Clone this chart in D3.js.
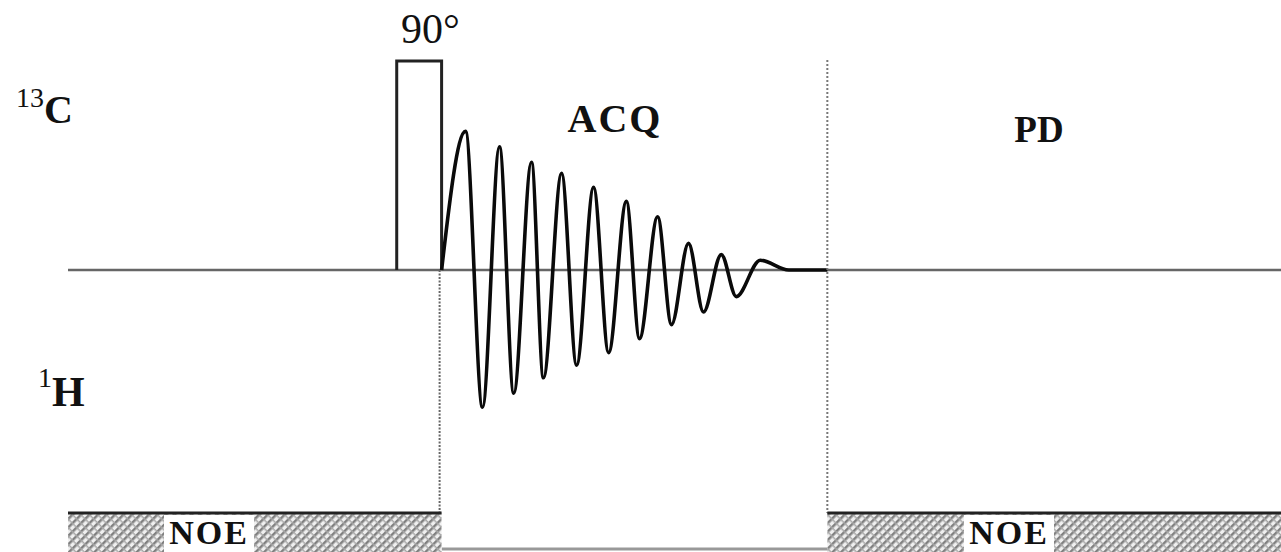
<!DOCTYPE html>
<html>
<head>
<meta charset="utf-8">
<script src="https://cdn.jsdelivr.net/npm/d3@7"></script>
<style>
  body { margin: 0; background: #fff; }
  text { font-family: "Liberation Serif", "Times New Roman", serif; fill: #111; }
</style>
</head>
<body>
<div id="chart"></div>
<script>
var svgWidth = 1281;
var svgHeight = 552;

// timeline in arbitrary time units
var pulseStart = 271;
var pulseEnd = 308;
var acqEnd = 626;
var seqEnd = 1000;

// 1H decoupler blocks (NOE build-up), in timeline units
var noeStarts = [0, 626];
var noeEnds = [308, 1000];

// FID extrema: fraction of acquisition time, normalised amplitude
var fidTime = [0, 0.062, 0.106, 0.150, 0.187, 0.233, 0.264, 0.311, 0.350, 0.394, 0.433,
  0.479, 0.513, 0.560, 0.596, 0.640, 0.679, 0.725, 0.764, 0.826, 0.90, 1.0];
var fidAmp = [0, 0.99, -0.98, 0.88, -0.88, 0.77, -0.77, 0.69, -0.68, 0.59, -0.59,
  0.49, -0.49, 0.38, -0.39, 0.19, -0.30, 0.11, -0.19, 0.07, 0, 0];

var svg = d3.select("#chart")
  .append("svg")
  .attr("width", svgWidth)
  .attr("height", svgHeight);

// hatch pattern for the decoupler blocks
var defs = svg.append("defs");
var pat = defs.append("pattern")
  .attr("id", "hatch")
  .attr("patternUnits", "userSpaceOnUse")
  .attr("width", 6)
  .attr("height", 6)
  .attr("patternTransform", "rotate(45)");
pat.append("rect").attr("width", 6).attr("height", 6).attr("fill", "#f0f0f0");
pat.append("rect").attr("width", 2.5).attr("height", 6).attr("fill", "#808080");
pat.append("rect").attr("width", 6).attr("height", 1.5).attr("fill", "#a8a8a8");

var x = d3.scaleLinear().domain([0, seqEnd]).range([68, 1281]);

var baseC = 270;  // 13C channel baseline
var y = d3.scaleLinear().domain([-1, 1]).range([baseC + 140, baseC - 140]);
var pulseTop = 61;

var hTop = 513;   // 1H channel top

// 13C baseline
svg.append("line")
  .attr("x1", x(0)).attr("x2", x(seqEnd))
  .attr("y1", baseC).attr("y2", baseC)
  .attr("stroke", "#666").attr("stroke-width", 2.5);

// 90 degree pulse
svg.append("path")
  .attr("d", `M${x(pulseStart)},${baseC} V${pulseTop} H${x(pulseEnd)} V${baseC}`)
  .attr("fill", "none")
  .attr("stroke", "#222")
  .attr("stroke-width", 3);

// FID
var xAcq = d3.scaleLinear().domain([0, 1]).range([x(pulseEnd), x(acqEnd)]);
var fid = fidTime.map((t, i) => [t, fidAmp[i]]);
var line = d3.line()
  .x(d => xAcq(d[0]))
  .y(d => y(d[1]))
  .curve(d3.curveMonotoneX);

svg.append("path")
  .datum(fid)
  .attr("d", line)
  .attr("fill", "none")
  .attr("stroke", "#0a0a0a")
  .attr("stroke-width", 3.6)
  .attr("stroke-linejoin", "round");

// dotted markers
svg.append("line")
  .attr("x1", x(pulseEnd) - 2).attr("x2", x(pulseEnd) - 2)
  .attr("y1", baseC).attr("y2", hTop)
  .attr("stroke", "#666").attr("stroke-width", 2)
  .attr("stroke-dasharray", "2,1.5");

svg.append("line")
  .attr("x1", x(acqEnd)).attr("x2", x(acqEnd))
  .attr("y1", 60).attr("y2", hTop)
  .attr("stroke", "#777").attr("stroke-width", 2)
  .attr("stroke-dasharray", "2,2");

// 1H channel baseline during acquisition
svg.append("line")
  .attr("x1", x(pulseEnd)).attr("x2", x(acqEnd))
  .attr("y1", 549).attr("y2", 549)
  .attr("stroke", "#999").attr("stroke-width", 3);

// NOE blocks
var blocks = svg.selectAll(".noe")
  .data(noeStarts.map((s, i) => ({ s: s, e: noeEnds[i] })))
  .enter()
  .append("g")
  .attr("class", "noe");

blocks.append("rect")
  .attr("x", d => x(d.s))
  .attr("y", hTop)
  .attr("width", d => x(d.e) - x(d.s))
  .attr("height", svgHeight - hTop)
  .attr("fill", "url(#hatch)");

blocks.append("line")
  .attr("x1", d => x(d.s)).attr("x2", d => x(d.e))
  .attr("y1", hTop).attr("y2", hTop)
  .attr("stroke", "#222").attr("stroke-width", 3);

var noeLabelX = [164, 964];
blocks.append("rect")
  .attr("x", (d, i) => noeLabelX[i])
  .attr("y", hTop + 2)
  .attr("width", 90)
  .attr("height", svgHeight - hTop)
  .attr("fill", "#fff");

blocks.append("text")
  .attr("x", (d, i) => noeLabelX[i] + 45)
  .attr("y", 544)
  .attr("text-anchor", "middle")
  .attr("font-size", 34)
  .attr("font-weight", "bold")
  .attr("letter-spacing", 2)
  .text("NOE");

// labels
svg.append("text")
  .attr("x", 401).attr("y", 43)
  .attr("font-size", 42)
  .text("90°");

var cLab = svg.append("text").attr("x", 16).attr("y", 123);
cLab.append("tspan").attr("font-size", 28).attr("dy", -16).text("13");
cLab.append("tspan").attr("font-size", 40).attr("font-weight", "bold").attr("dy", 16).text("C");

var hLab = svg.append("text").attr("x", 38).attr("y", 406);
hLab.append("tspan").attr("font-size", 28).attr("dy", -19).text("1");
hLab.append("tspan").attr("font-size", 42).attr("font-weight", "bold").attr("dy", 19).text("H");

svg.append("text")
  .attr("x", 615).attr("y", 132)
  .attr("text-anchor", "middle")
  .attr("font-size", 40)
  .attr("font-weight", "bold")
  .attr("letter-spacing", 2)
  .text("ACQ");

svg.append("text")
  .attr("x", 1039).attr("y", 142)
  .attr("text-anchor", "middle")
  .attr("font-size", 37)
  .attr("font-weight", "bold")
  .text("PD");
</script>
</body>
</html>
